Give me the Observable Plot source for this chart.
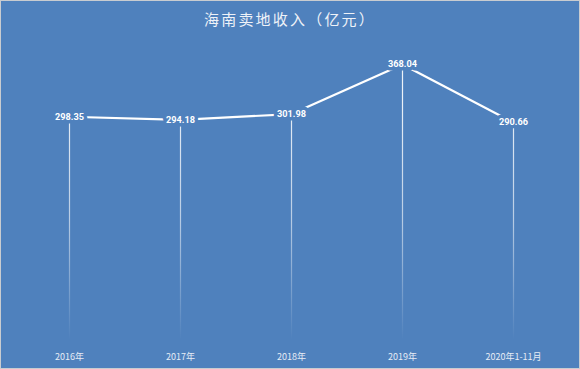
<!DOCTYPE html>
<html><head><meta charset="utf-8">
<script src="https://cdn.jsdelivr.net/npm/d3@7"></script>
<script src="https://cdn.jsdelivr.net/npm/@observablehq/plot@0.6"></script>
<style>
html,body{margin:0;padding:0;background:#fff;}
#wrap{width:580px;height:369px;box-sizing:border-box;border:1px solid #c9ccd0;background:#4F81BD;overflow:hidden;font-family:"Noto Sans CJK SC","DejaVu Sans",sans-serif;}
#title{height:36px;line-height:36px;text-align:center;color:#eef2f8;font-size:15px;letter-spacing:2.2px;font-weight:400;font-family:"Noto Sans CJK SC",sans-serif;}
svg{display:block;}
</style></head>
<body>
<div id="wrap"><div id="title">海南卖地收入（亿元）</div><div id="chart"></div></div>
<script>
const categories = ["2016年","2017年","2018年","2019年","2020年1-11月"];
const values = [298.35, 294.18, 301.98, 368.04, 290.66];
const labels = ["298.35","294.18","301.98","368.04","290.66"];
const data = categories.map((c,i)=>({cat:c, value:values[i], label:labels[i]}));
const bg = "#4F81BD";
const chart = Plot.plot({
  width: 578,
  height: 331,
  marginTop: 0, marginBottom: 28, marginLeft: 0, marginRight: 0,
  style: {background: bg, fontFamily: '"Roboto","DejaVu Sans",sans-serif'},
  x: {type: "point", domain: categories, range: [66, 513], padding: 0, label: null},
  y: {domain: [0, 368.04], range: [303, 27], axis: null},
  marks: [
    Plot.ruleX(data, {x: "cat", y1: "value", y2: 0, stroke: "url(#dropGrad)", strokeWidth: 1.2}),
    Plot.line(data, {x: "cat", y: "value", stroke: "white", strokeWidth: 2.2}),
    Plot.text(data, {x: "cat", y: "value", text: "label", fill: "white", fontWeight: "bold", fontSize: 9.2,
      stroke: bg, strokeWidth: 7, paintOrder: "stroke", fontFamily: '"Roboto","DejaVu Sans",sans-serif'}),
    Plot.axisX({tickSize: 0, tickPadding: 13, fontSize: 9, color: "#e6ecf5", fontFamily: '"Noto Sans CJK SC",sans-serif'})
  ]
});
const ns = "http://www.w3.org/2000/svg";
const defs = document.createElementNS(ns, "defs");
defs.innerHTML = '<linearGradient id="dropGrad" gradientUnits="userSpaceOnUse" x1="0" y1="60" x2="0" y2="303"><stop offset="0" stop-color="#fff" stop-opacity="0.9"/><stop offset="0.5" stop-color="#fff" stop-opacity="0.6"/><stop offset="1" stop-color="#fff" stop-opacity="0"/></linearGradient>';
chart.insertBefore(defs, chart.firstChild);
document.getElementById("chart").appendChild(chart);
</script>
</body></html>
